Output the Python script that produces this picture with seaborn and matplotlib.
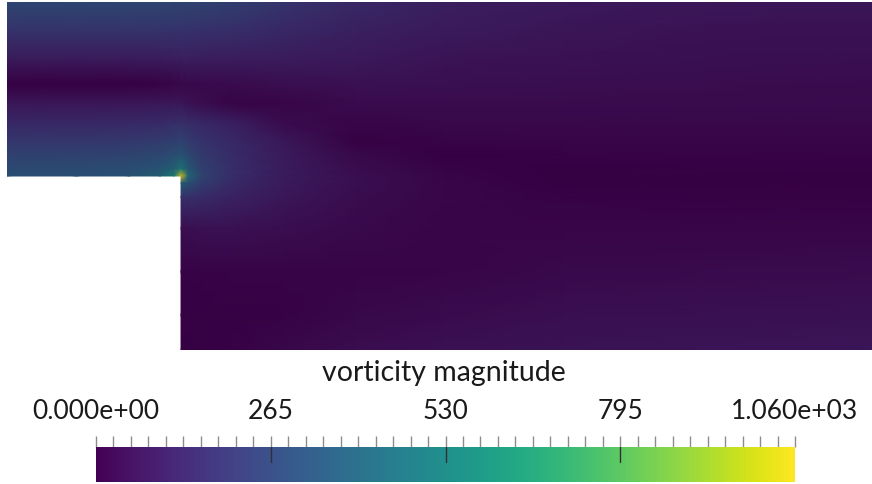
import numpy as np
import matplotlib
matplotlib.use("Agg")
import matplotlib.pyplot as plt
import seaborn as sns
from matplotlib.colors import ListedColormap, Normalize
from matplotlib.cm import ScalarMappable
from matplotlib.ticker import MultipleLocator

# ---------------- data (vorticity magnitude) ----------------
VMIN, VMAX = 0.0, 1060.0
title = "vorticity magnitude"
tick_values = [0, 265, 530, 795, 1060]
tick_labels = ["0.000e+00", "265", "530", "795", "1.060e+03"]

# inlet channel (upstream of the step), step height = 1
inlet_x = [-1.0, -0.6, -0.3, -0.12, -0.04, 0.0]
inlet_y = [2.0, 1.85, 1.68, 1.53, 1.42, 1.3, 1.2, 1.12, 1.04, 1.0]
inlet_vort = [
    [285, 285, 285, 280, 278, 275],
    [205, 205, 205, 203, 202, 200],
    [100, 100, 100, 104, 108, 115],
    [3, 3, 3, 12, 18, 28],
    [75, 75, 78, 80, 82, 75],
    [150, 150, 155, 165, 175, 185],
    [215, 215, 220, 235, 250, 265],
    [260, 262, 270, 290, 320, 340],
    [305, 308, 322, 355, 420, 520],
    [321, 325, 345, 400, 560, 1060],
]

# main channel (downstream of the step)
main_x = [0.0, 0.04, 0.12, 0.3, 0.6, 1.0, 1.5, 2.2, 3.0, 3.97]
main_y = [2.0, 1.85, 1.68, 1.53, 1.42, 1.3, 1.2, 1.12, 1.04, 1.0,
          0.96, 0.88, 0.7, 0.45, 0.2, 0.0]
main_vort = [
    [275, 272, 265, 245, 200, 150, 115, 92, 80, 75],
    [200, 198, 193, 180, 153, 122, 96, 78, 68, 64],
    [115, 112, 108, 105, 100, 89, 74, 63, 55, 52],
    [28, 31, 34, 39, 53, 61, 55, 49, 44, 41],
    [75, 60, 45, 15, 19, 40, 41, 39, 35, 34],
    [185, 170, 150, 120, 40, 17, 26, 28, 26, 25],
    [265, 235, 195, 150, 80, 5, 13, 18, 18, 18],
    [340, 290, 225, 165, 95, 30, 4, 11, 12, 12],
    [520, 380, 255, 170, 98, 45, 15, 4, 6, 6],
    [1060, 450, 265, 168, 98, 50, 20, 2, 3, 4],
    [400, 330, 235, 155, 92, 50, 22, 4, 1, 1],
    [190, 185, 165, 125, 80, 45, 22, 9, 7, 6],
    [50, 52, 58, 58, 48, 32, 20, 18, 20, 20],
    [10, 10, 12, 16, 16, 16, 20, 30, 36, 38],
    [5, 5, 6, 8, 12, 25, 40, 52, 57, 58],
    [3, 3, 5, 10, 25, 45, 60, 70, 74, 76],
]

# ---------------- style ----------------
sns.set_theme(style="white")
plt.rcParams["font.family"] = ["Lato", "DejaVu Sans"]

W, H = 872, 485
fig = plt.figure(figsize=(W / 100, H / 100), dpi=100)
fig.patch.set_facecolor("white")


def px_rect(x0, y0, x1, y1):
    return [x0 / W, 1 - y1 / H, (x1 - x0) / W, (y1 - y0) / H]


viridis = sns.color_palette("viridis", as_cmap=True)
shade = 0.8  # renderer lighting darkens the surface slightly
field_cmap = ListedColormap(viridis(np.linspace(0, 1, 256))[:, :3] * shade)

ax = fig.add_axes(px_rect(7, 3, 872, 351))
for xs, ys, vals in [(inlet_x, inlet_y, inlet_vort), (main_x, main_y, main_vort)]:
    X, Y = np.meshgrid(xs, ys)
    ax.pcolormesh(X, Y, np.asarray(vals, dtype=float), shading="gouraud",
                  cmap=field_cmap, vmin=VMIN, vmax=VMAX)
ax.set_xlim(inlet_x[0], main_x[-1])
ax.set_ylim(0, 2)
ax.axis("off")

# ---------------- colour bar ----------------
cax = fig.add_axes(px_rect(96, 448, 795, 483))
sm = ScalarMappable(norm=Normalize(VMIN, VMAX), cmap=viridis)
cb = fig.colorbar(sm, cax=cax, orientation="horizontal")
cb.outline.set_visible(False)
cax.xaxis.set_ticks_position("top")
cb.set_ticks(tick_values)
cb.set_ticklabels(tick_labels)
cax.xaxis.set_minor_locator(MultipleLocator(26.5))
cax.tick_params(axis="x", which="both", direction="out", length=8, width=1,
                color="#8c8c8c", top=True, bottom=False, labeltop=True,
                labelbottom=False, pad=9, labelsize=19, labelcolor="#1a1a1a")
for v in tick_values[1:-1]:
    cax.axvline(v, ymin=1 - 15 / 35, ymax=1, color="#303030", lw=1)

fig.text(444 / W, 1 - 381 / H, title, ha="center", va="baseline",
         fontsize=20.5, color="#1a1a1a")

fig.savefig("out.png", dpi=100)
